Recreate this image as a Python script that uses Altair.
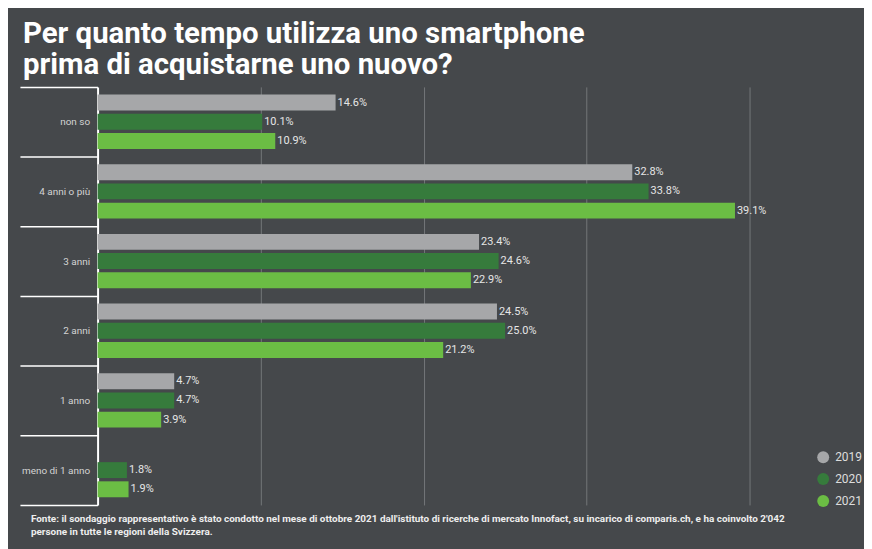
import altair as alt
import pandas as pd

categories = ["non so", "4 anni o più", "3 anni", "2 anni", "1 anno", "meno di 1 anno"]
years = ["2019", "2020", "2021"]
v2019 = [14.6, 32.8, 23.4, 24.5, 4.7, None]
v2020 = [10.1, 33.8, 24.6, 25.0, 4.7, 1.8]
v2021 = [10.9, 39.1, 22.9, 21.2, 3.9, 1.9]
colors = ["#a6a7a9", "#367b3c", "#6bbd44"]

title_lines = ["Per quanto tempo utilizza uno smartphone", "prima di acquistarne uno nuovo?"]
footer_lines = [
    "Fonte: il sondaggio rappresentativo è stato condotto nel mese di ottobre 2021 dall'istituto di ricerche di mercato Innofact, su incarico di comparis.ch, e ha coinvolto 2'042",
    "persone in tutte le regioni della Svizzera.",
]

rows = []
for yr, vals in zip(years, [v2019, v2020, v2021]):
    for c, v in zip(categories, vals):
        if v is not None:
            rows.append({"cat": c, "year": yr, "value": v, "label": f"{v:.1f}%"})
df = pd.DataFrame(rows)

BG = "#45484b"

y_enc = alt.Y(
    "cat:N",
    sort=categories,
    scale=alt.Scale(paddingInner=0, paddingOuter=0),
    axis=alt.Axis(
        title=None,
        domainColor="white",
        domainWidth=2,
        tickColor="white",
        tickWidth=1.5,
        tickSize=78,
        tickBand="extent",
        labelPadding=-70,
        labelColor="#d4d4d4",
        labelFontSize=10,
        labelFont="Roboto",
    ),
)
yoff = alt.YOffset("year:N", sort=years, scale=alt.Scale(paddingInner=0.17, paddingOuter=0.4))
x_enc = alt.X(
    "value:Q",
    scale=alt.Scale(domain=[0, 45], nice=False),
    axis=alt.Axis(
        title=None,
        values=[10, 20, 30, 40],
        labels=False,
        ticks=False,
        domain=False,
        grid=True,
        gridColor="#74777a",
        gridWidth=1,
    ),
)

base = alt.Chart(df)
bars = base.mark_bar().encode(
    x=x_enc,
    y=y_enc,
    yOffset=yoff,
    color=alt.Color(
        "year:N",
        scale=alt.Scale(domain=years, range=colors),
        legend=alt.Legend(
            orient="none",
            legendX=723,
            legendY=366,
            title=None,
            symbolType="circle",
            symbolSize=144,
            symbolStrokeWidth=0,
            labelFontSize=12,
            labelColor="#dddddd",
            labelFont="Roboto",
            labelOffset=6,
            rowPadding=10,
        ),
    ),
)
labels = base.mark_text(
    align="left", baseline="middle", dx=2, fontSize=11, font="Roboto", color="#e6e6e6"
).encode(x="value:Q", y=alt.Y("cat:N", sort=categories), yOffset=yoff, text="label:N")

footer = alt.Chart(pd.DataFrame({"t": ["\n".join(footer_lines)]})).mark_text(
    align="left",
    baseline="alphabetic",
    fontSize=10,
    fontWeight="bold",
    font="Roboto",
    color="#eeeeee",
    lineHeight=13.5,
    lineBreak="\n",
).encode(x=alt.value(-67), y=alt.value(437), text="t:N")

chart = (
    alt.layer(bars, labels, footer)
    .properties(
        width=737,
        height=420,
        padding={"left": 90, "top": 78, "right": 33, "bottom": 43},
        autosize=alt.AutoSizeParams(type="none"),
        background=BG,
        title=alt.TitleParams(
            text=title_lines,
            anchor="start",
            frame="group",
            dx=-75,
            offset=1,
            fontSize=29.5,
            font="Roboto",
            fontWeight="bold",
            color="white",
            lineHeight=32,
        ),
    )
    .configure_view(stroke=None)
)

chart.save("out.html", embed_options={"renderer": "svg", "actions": False})
